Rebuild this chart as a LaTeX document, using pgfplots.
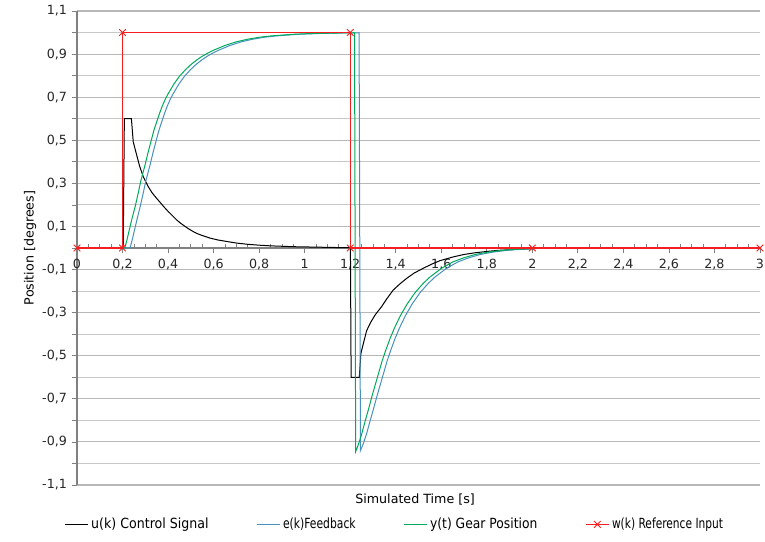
\documentclass[border=0pt]{standalone}
\usepackage{fontspec}
\setmainfont{DejaVu Sans}
\usepackage{graphicx}
\usepackage{pgfplots}
\pgfplotsset{compat=1.18}
\definecolor{cred}{RGB}{245,30,30}
\definecolor{cgreen}{RGB}{0,170,90}
\definecolor{cblue}{RGB}{70,145,190}
\begin{document}
\begin{tikzpicture}
\begin{axis}[name=ax, scale only axis, width=512.25pt, height=355.5pt,
  xmin=0, xmax=3, ymin=-1.1, ymax=1.1, clip=false,
  axis x line=middle, axis y line=left, hide obscured x ticks=false,
  every inner x axis line/.append style={-}, every outer y axis line/.append style={-},
  x axis line style={-}, y axis line style={-},
  axis line style={black!50, line width=0.8pt},
  xtick={0,0.2,0.4,0.6,0.8,1,1.2,1.4,1.6,1.8,2,2.2,2.4,2.6,2.8,3},
  minor x tick num=3,
  ytick={-1.1,-0.9,-0.7,-0.5,-0.3,-0.1,0.1,0.3,0.5,0.7,0.9,1.1},
  minor ytick={-1,-0.8,-0.6,-0.4,-0.2,0,0.2,0.4,0.6,0.8,1},
  ymajorgrids, yminorgrids,
  major grid style={black!28, line width=0.8pt},
  minor grid style={black!22, line width=0.8pt},
  tick align=center, major tick length=4pt, minor tick length=3pt,
  tick style={black!50, line width=0.6pt},
  major x tick style={yshift=-2pt},
  minor x tick style={yshift=1.5pt},
  major y tick style={xshift=-2pt},
  minor y tick style={xshift=-2pt, /pgfplots/minor tick length=4pt},
  /pgf/number format/.cd, use comma, fixed, precision=1, assume math mode=true,
  /pgfplots/.cd,
  tick label style={font=\fontsize{9.5}{11}\selectfont, text=black!85},
  xticklabel style={yshift=-3pt},
  yticklabel style={xshift=-2pt},
  xlabel={Simulated Time [s]},
  ylabel={Position [degrees]},
  every axis x label/.style={at={(axis description cs:0.495,0)}, anchor=north, yshift=-3pt, font=\fontsize{9.5}{11}\selectfont},
  every axis y label/.style={at={(axis description cs:-0.0688,0.5)}, rotate=90, anchor=center, font=\fontsize{9.5}{11}\selectfont},
  legend columns=4,
  legend style={at={(0.466,-0.058)}, anchor=north, draw=none, fill=none,
    font=\fontsize{10.5}{12}\selectfont,
    /tikz/every even column/.append style={column sep=34pt}},
]
\addplot[black, line width=0.75pt] coordinates {
(0,0) (0.203,0) (0.208,0.6) (0.239,0.6) (0.247,0.493) (0.26,0.44) (0.275,0.38)
(0.291,0.331) (0.31,0.29) (0.33,0.256) (0.35,0.23) (0.365,0.212) (0.38,0.193)
(0.40,0.17) (0.42,0.149) (0.438,0.13) (0.455,0.115) (0.475,0.10) (0.49,0.089)
(0.511,0.076) (0.53,0.066) (0.55,0.058) (0.584,0.046) (0.62,0.037) (0.665,0.029)
(0.70,0.023) (0.75,0.017) (0.80,0.013) (0.85,0.010) (0.90,0.008) (0.95,0.006)
(1.05,0.004) (1.15,0.002) (1.201,0.001) (1.204,-0.6) (1.240,-0.6) (1.247,-0.489)
(1.272,-0.384) (1.29,-0.345) (1.31,-0.31) (1.338,-0.272) (1.36,-0.237)
(1.389,-0.195) (1.42,-0.165) (1.448,-0.141) (1.48,-0.117) (1.521,-0.094)
(1.56,-0.074) (1.594,-0.059) (1.65,-0.042) (1.70,-0.030) (1.75,-0.022)
(1.80,-0.016) (1.85,-0.011) (1.90,-0.008) (1.95,-0.005) (2.0,-0.004)
};
\addlegendentry{\scalebox{0.9}[1]{u(k) Control Signal}}
\addplot[cblue, line width=0.75pt] coordinates {
(0,0) (0.233,0) (0.243,0.04) (0.253,0.085) (0.263,0.13) (0.277,0.19) (0.292,0.26)
(0.302,0.31) (0.312,0.35) (0.322,0.39) (0.3345,0.445) (0.347,0.495) (0.3595,0.545)
(0.372,0.585) (0.3845,0.625) (0.397,0.66) (0.4095,0.69) (0.422,0.715) (0.447,0.76)
(0.472,0.797) (0.497,0.826) (0.522,0.851) (0.547,0.872) (0.572,0.89) (0.597,0.905)
(0.622,0.918) (0.672,0.94) (0.722,0.957) (0.772,0.969) (0.822,0.978) (0.872,0.984)
(0.922,0.988) (0.972,0.992) (1.022,0.994) (1.072,0.996) (1.122,0.997) (1.172,0.998)
(1.239,0.999) (1.245,-0.94) (1.257,-0.91) (1.272,-0.862) (1.287,-0.804)
(1.302,-0.748) (1.317,-0.69) (1.332,-0.635) (1.347,-0.58) (1.362,-0.525)
(1.377,-0.478) (1.397,-0.42) (1.417,-0.37) (1.442,-0.315) (1.472,-0.26)
(1.507,-0.207) (1.542,-0.165) (1.572,-0.135) (1.622,-0.095) (1.672,-0.065)
(1.722,-0.045) (1.772,-0.03) (1.822,-0.02) (1.872,-0.013) (1.922,-0.008)
(1.972,-0.005) (2.0,-0.004)
};
\addlegendentry{\scalebox{0.77}[1]{e(k)Feedback}}
\addplot[cgreen, line width=0.75pt] coordinates {
(0,0) (0.21,0) (0.22,0.04) (0.23,0.085) (0.24,0.13) (0.255,0.19) (0.27,0.26)
(0.28,0.31) (0.29,0.35) (0.30,0.39) (0.3125,0.445) (0.325,0.495) (0.3375,0.545)
(0.35,0.585) (0.3625,0.625) (0.375,0.66) (0.3875,0.69) (0.40,0.715) (0.425,0.76)
(0.45,0.797) (0.475,0.826) (0.50,0.851) (0.525,0.872) (0.55,0.89) (0.575,0.905)
(0.60,0.918) (0.65,0.94) (0.70,0.957) (0.75,0.969) (0.80,0.978) (0.85,0.984)
(0.90,0.988) (0.95,0.992) (1.00,0.994) (1.05,0.996) (1.10,0.997) (1.15,0.998)
(1.219,0.999) (1.224,-0.945) (1.235,-0.915) (1.25,-0.865) (1.265,-0.806)
(1.28,-0.75) (1.295,-0.69) (1.31,-0.635) (1.325,-0.58) (1.34,-0.525)
(1.355,-0.478) (1.375,-0.42) (1.395,-0.37) (1.42,-0.315) (1.45,-0.26)
(1.485,-0.207) (1.52,-0.165) (1.55,-0.135) (1.60,-0.095) (1.65,-0.065)
(1.70,-0.045) (1.75,-0.03) (1.80,-0.02) (1.85,-0.013) (1.90,-0.008)
(1.95,-0.005) (2.0,-0.003)
};
\addlegendentry{\scalebox{0.88}[1]{y(t) Gear Position}}
\addplot[cred, line width=0.9pt, mark=x, mark size=3.5pt, mark options={line width=0.7pt}] coordinates {
(0,0) (0.2,0) (0.2,1) (1.2,1) (1.2,0) (2,0) (3,0)
};
\addlegendentry{\scalebox{0.76}[1]{w(k) Reference Input}}
\end{axis}
\pgfresetboundingbox
\path (ax.south west) ++(-57.75pt,-42pt) coordinate (bl);
\path (ax.north east) ++(3.75pt,8.25pt) coordinate (tr);
\useasboundingbox (bl) rectangle (tr);
\end{tikzpicture}
\end{document}
